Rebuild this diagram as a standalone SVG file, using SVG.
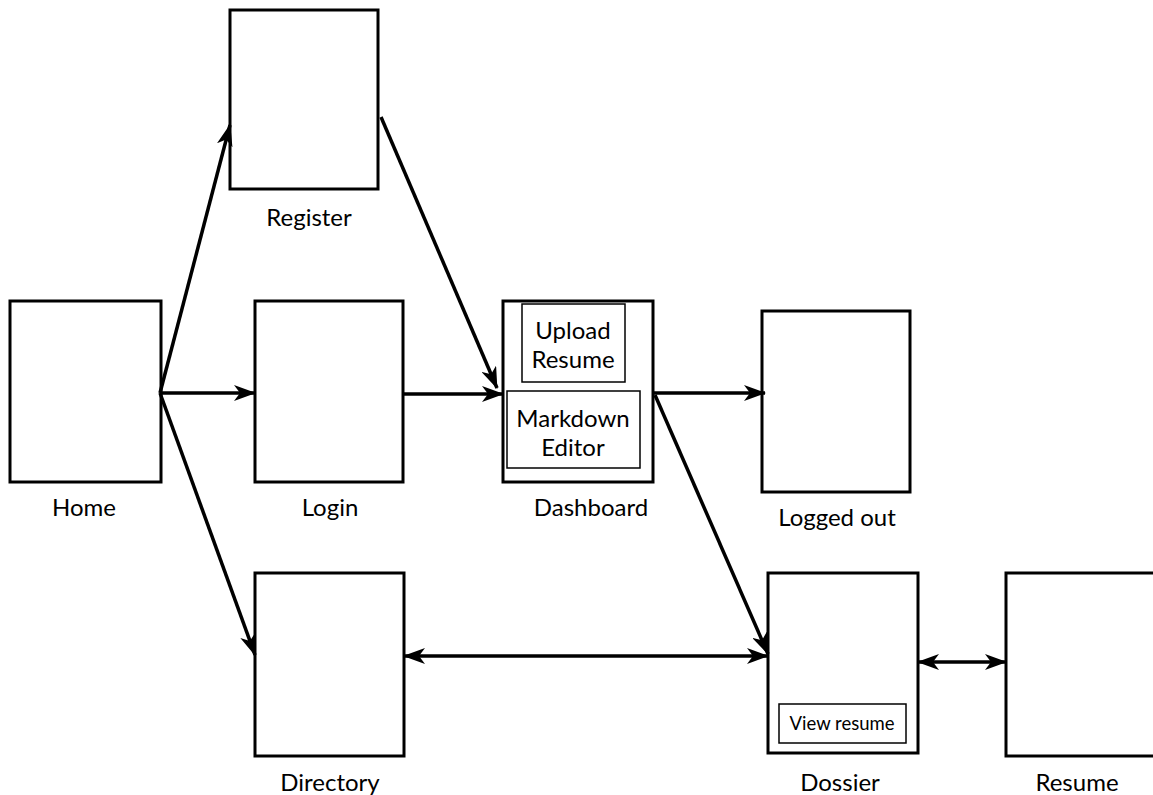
<svg xmlns="http://www.w3.org/2000/svg" width="1153" height="795" viewBox="0 0 1153 795">
<defs>
<marker id="ah" viewBox="0 0 22 16" refX="21" refY="8" markerWidth="22" markerHeight="16" markerUnits="userSpaceOnUse" orient="auto-start-reverse">
<path d="M0,0 L22,8 L0,16 L6,8 Z" fill="#000"/>
</marker>
</defs>
<style>
.box{fill:#fff;stroke:#000;stroke-width:3}
.inner{fill:#fff;stroke:#000;stroke-width:1.5}
.lbl{font-family:Lato,"Open Sans","Liberation Sans",sans-serif;font-size:24px;fill:#000;text-anchor:middle}
.sm{font-size:18.5px}
.edge{fill:none;stroke:#000;stroke-width:3.5}
</style>
<rect width="1153" height="795" fill="#fff"/>
<g id="register"><rect class="box" x="230" y="10" width="148" height="179"/><text class="lbl" x="309" y="226">Register</text></g>
<g id="home"><rect class="box" x="10" y="301" width="151" height="181"/><text class="lbl" x="84" y="516">Home</text></g>
<g id="login"><rect class="box" x="255" y="301" width="148" height="181"/><text class="lbl" x="330" y="516">Login</text></g>
<g id="dashboard"><rect class="box" x="503" y="301" width="150" height="181"/>
<rect class="inner" x="522" y="304" width="103" height="78"/><text class="lbl" x="573" y="339">Upload</text><text class="lbl" x="573" y="368">Resume</text>
<rect class="inner" x="507" y="391" width="133" height="77"/><text class="lbl" x="573" y="427">Markdown</text><text class="lbl" x="573" y="456">Editor</text>
<text class="lbl" x="591" y="516">Dashboard</text></g>
<g id="loggedout"><rect class="box" x="762" y="311" width="148" height="181"/><text class="lbl" x="837" y="526">Logged out</text></g>
<g id="directory"><rect class="box" x="255" y="573" width="149" height="183"/><text class="lbl" x="330" y="791">Directory</text></g>
<g id="dossier"><rect class="box" x="768" y="573" width="150" height="180"/>
<rect class="inner" x="779" y="704" width="127" height="39"/><text class="lbl sm" x="842" y="730">View resume</text>
<text class="lbl" x="840" y="791">Dossier</text></g>
<g id="resume"><rect class="box" x="1006" y="573" width="152" height="183"/><text class="lbl" x="1077" y="791">Resume</text></g>
<g id="connectors">
<path class="edge" d="M160,393 L230,125" marker-end="url(#ah)"/>
<path class="edge" d="M160,393 L255,393" marker-end="url(#ah)"/>
<path class="edge" d="M160,393 L255,655" marker-end="url(#ah)"/>
<path class="edge" d="M381,117 L497,388" marker-end="url(#ah)"/>
<path class="edge" d="M403,394 L503,394" marker-end="url(#ah)"/>
<path class="edge" d="M653,393 L765,393" marker-end="url(#ah)"/>
<path class="edge" d="M655,395 L768,654" marker-end="url(#ah)"/>
<path class="edge" d="M404,656 L768,656" marker-start="url(#ah)" marker-end="url(#ah)"/>
<path class="edge" d="M918,662 L1006,662" marker-start="url(#ah)" marker-end="url(#ah)"/>
</g>
</svg>
